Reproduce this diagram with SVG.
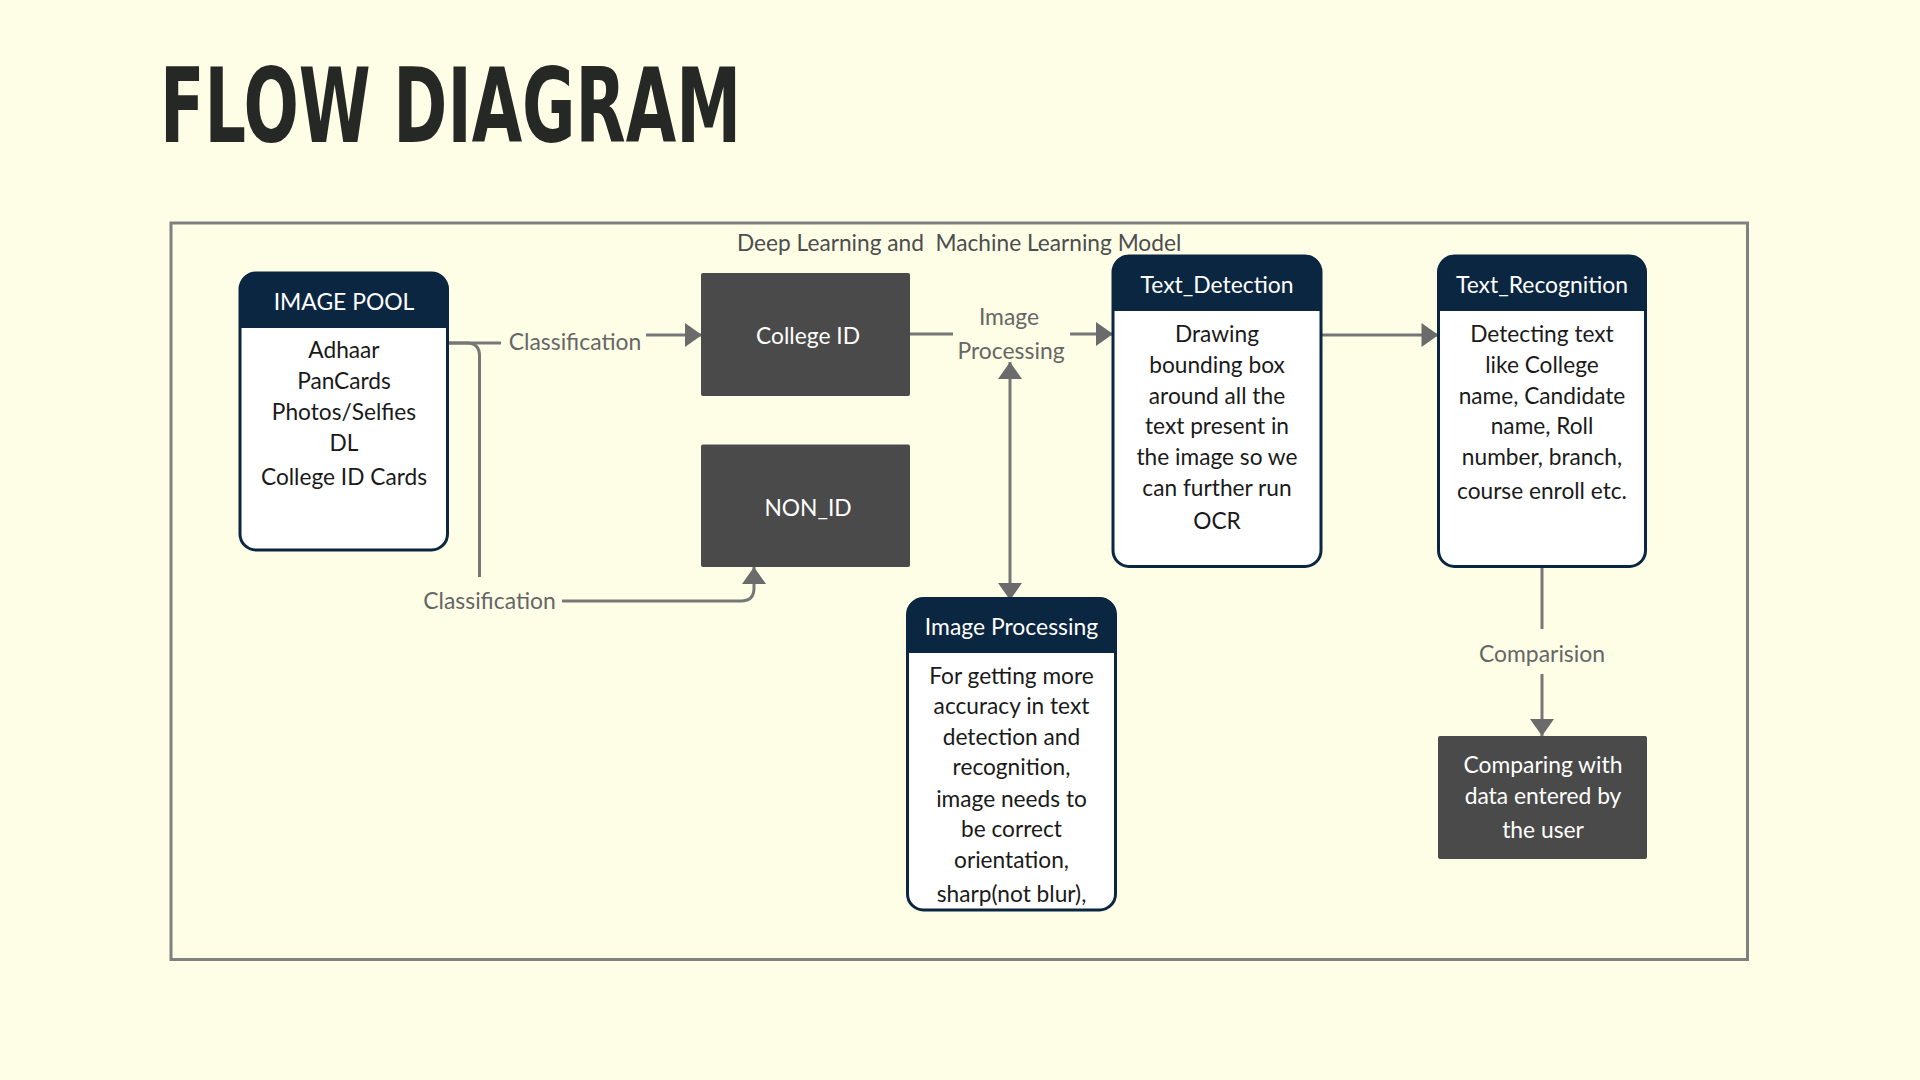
<svg xmlns="http://www.w3.org/2000/svg" width="1920" height="1080" viewBox="0 0 1920 1080">
<defs>
<style>
.bg{fill:#fefee7}
.frame{fill:none;stroke:#808080;stroke-width:3}
.title{font-family:"DejaVu Sans Condensed","DejaVu Sans",sans-serif;font-weight:bold;font-size:104px;fill:#262826}
.card{fill:#ffffff;stroke:#0b2640;stroke-width:3}
.hdr{fill:#0b2640}
.htxt{font-family:Lato,"Open Sans",sans-serif;font-size:22.9px;fill:#ffffff;text-anchor:middle}
.btxt{font-family:Lato,"Open Sans",sans-serif;font-size:22.7px;fill:#1a1a1a;text-anchor:middle}
.dark{fill:#4a4a4a}
.dtxt{font-family:Lato,"Open Sans",sans-serif;font-size:22.8px;fill:#ffffff;text-anchor:middle}
.lbl{font-family:Lato,"Open Sans",sans-serif;font-size:22.9px;fill:#666666;text-anchor:middle}
.cap{font-family:Lato,"Open Sans",sans-serif;font-size:22.7px;fill:#4d4d4d;white-space:pre}
.con{fill:none;stroke:#777777;stroke-width:3}
</style>
<marker id="arr" markerUnits="userSpaceOnUse" markerWidth="18" markerHeight="24" viewBox="0 0 17 24" refX="17" refY="12" orient="auto-start-reverse">
<path d="M0,0 L17,12 L0,24 z" fill="#6b6b6b"/>
</marker>
</defs>
<rect class="bg" x="0" y="0" width="1920" height="1080"/>
<text class="title" x="160" y="142" textLength="581" lengthAdjust="spacingAndGlyphs">FLOW DIAGRAM</text>
<rect class="frame" x="171" y="223" width="1576.5" height="736.5"/>
<text class="cap" x="737" y="251">Deep Learning and  Machine Learning Model</text>

<g id="connectors">
<path class="con" d="M447.5,343 H501"/>
<path class="con" d="M646,335 H702" marker-end="url(#arr)"/>
<path class="con" d="M447.5,343 H467 Q479.5,343 479.5,356 V577"/>
<path class="con" d="M562,601 H741 Q754,601 754,588 V567" marker-end="url(#arr)"/>
<path class="con" d="M910,334 H953"/>
<path class="con" d="M1070,334 H1113" marker-end="url(#arr)"/>
<path class="con" d="M1010,362 V600" marker-start="url(#arr)" marker-end="url(#arr)"/>
<path class="con" d="M1321,335 H1438.5" marker-end="url(#arr)"/>
<path class="con" d="M1542,566 V629"/>
<path class="con" d="M1542,674 V736" marker-end="url(#arr)"/>
<text class="lbl" x="575" y="350">Classification</text>
<text class="lbl" x="489.5" y="609">Classification</text>
<text class="lbl" x="1009" y="325">Image</text>
<text class="lbl" x="1011" y="359">Processing</text>
<text class="lbl" x="1542" y="662">Comparision</text>
</g>

<g id="image-pool">
<rect class="card" x="240" y="273" width="207.5" height="277" rx="16"/>
<path class="hdr" d="M240,328 V289 Q240,273 256,273 H431.5 Q447.5,273 447.5,289 V328 Z"/>
<text class="htxt" x="344" y="310">IMAGE POOL</text>
<text class="btxt" x="344" y="358">Adhaar</text>
<text class="btxt" x="344" y="389">PanCards</text>
<text class="btxt" x="344" y="419.5">Photos/Selfies</text>
<text class="btxt" x="344" y="450.5">DL</text>
<text class="btxt" x="344" y="485">College ID Cards</text>
</g>

<g id="college-id">
<rect class="dark" x="701" y="273" width="209" height="123" rx="2"/>
<text class="dtxt" x="808" y="344">College ID</text>
</g>

<g id="non-id">
<rect class="dark" x="701" y="444.5" width="209" height="122.5" rx="2"/>
<text class="dtxt" x="808" y="515.5">NON_ID</text>
</g>

<g id="text-detection">
<rect class="card" x="1113" y="256" width="208" height="310.5" rx="16"/>
<path class="hdr" d="M1113,311 V272 Q1113,256 1129,256 H1305 Q1321,256 1321,272 V311 Z"/>
<text class="htxt" x="1217" y="293">Text_Detection</text>
<text class="btxt" x="1217" y="341.5">Drawing</text>
<text class="btxt" x="1217" y="372.5">bounding box</text>
<text class="btxt" x="1217" y="403.5">around all the</text>
<text class="btxt" x="1217" y="434">text present in</text>
<text class="btxt" x="1217" y="465">the image so we</text>
<text class="btxt" x="1217" y="496">can further run</text>
<text class="btxt" x="1217" y="528.5">OCR</text>
</g>

<g id="text-recognition">
<rect class="card" x="1438.5" y="256" width="207" height="310.5" rx="16"/>
<path class="hdr" d="M1438.5,311 V272 Q1438.5,256 1454.5,256 H1629.5 Q1645.5,256 1645.5,272 V311 Z"/>
<text class="htxt" x="1542" y="293">Text_Recognition</text>
<text class="btxt" x="1542" y="341.5">Detecting text</text>
<text class="btxt" x="1542" y="372.5">like College</text>
<text class="btxt" x="1542" y="403.5">name, Candidate</text>
<text class="btxt" x="1542" y="434">name, Roll</text>
<text class="btxt" x="1542" y="465">number, branch,</text>
<text class="btxt" x="1542" y="498.5">course enroll etc.</text>
</g>

<g id="image-processing">
<rect x="907.5" y="598.5" width="208" height="311.5" rx="16" fill="#ffffff"/>
<text class="btxt" x="1011.5" y="683.5">For getting more</text>
<text class="btxt" x="1011.5" y="713.5">accuracy in text</text>
<text class="btxt" x="1011.5" y="745">detection and</text>
<text class="btxt" x="1011.5" y="775">recognition,</text>
<text class="btxt" x="1011.5" y="806.5">image needs to</text>
<text class="btxt" x="1011.5" y="837">be correct</text>
<text class="btxt" x="1011.5" y="868">orientation,</text>
<text class="btxt" x="1011.5" y="901.5">sharp(not blur),</text>
<rect x="907.5" y="598.5" width="208" height="311.5" rx="16" fill="none" stroke="#0b2640" stroke-width="3"/>
<path class="hdr" d="M907.5,653 V614.5 Q907.5,598.5 923.5,598.5 H1099.5 Q1115.5,598.5 1115.5,614.5 V653 Z"/>
<text class="htxt" x="1011.5" y="635">Image Processing</text>
</g>

<g id="comparing">
<rect class="dark" x="1438" y="736" width="209" height="123" rx="2"/>
<text class="dtxt" x="1543" y="772.5">Comparing with</text>
<text class="dtxt" x="1543" y="804">data entered by</text>
<text class="dtxt" x="1543" y="837.5">the user</text>
</g>
</svg>
